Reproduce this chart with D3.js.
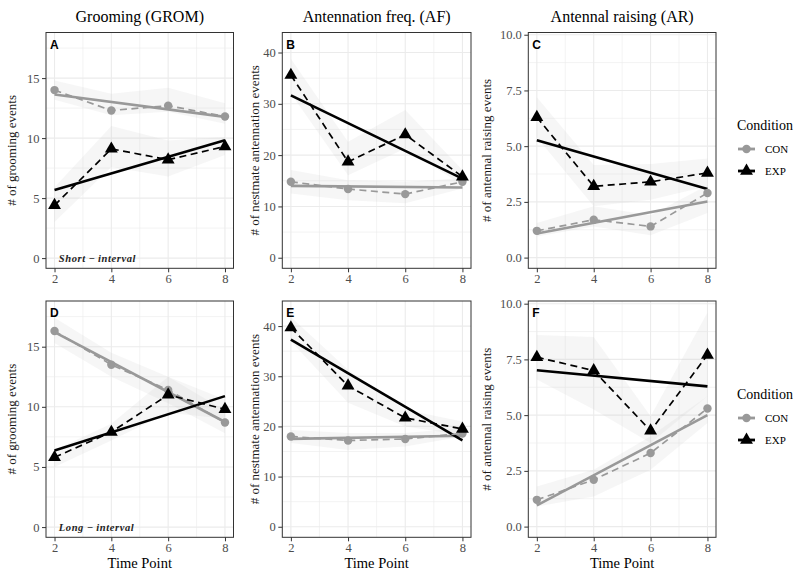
<!DOCTYPE html>
<html>
<head>
<meta charset="utf-8">
<script src="https://cdnjs.cloudflare.com/ajax/libs/d3/7.8.5/d3.min.js"></script>
<style>
  body { margin: 0; background: #fff; }
  text { font-family: "Liberation Serif", "DejaVu Serif", serif; }
</style>
</head>
<body>
<div id="chart"></div>
<script>
// time points on the x axis
var timePoints = [2, 4, 6, 8];
var conditions = ["CON", "EXP"];

// column titles / y titles
var columnTitles = ["Grooming (GROM)", "Antennation freq. (AF)", "Antennal raising (AR)"];
var yTitles = ["# of grooming events", "# of nestmate antennation events", "# of antennal raising events"];

// A - grooming, short interval
var aConMean = [14.0, 12.3, 12.7, 11.8];
var aConLo   = [13.2, 11.9, 12.2, 11.2];
var aConHi   = [14.8, 13.7, 14.2, 12.9];
var aExpMean = [4.4, 9.1, 8.2, 9.3];
var aExpLo   = [3.0, 7.6, 6.8, 8.6];
var aExpHi   = [5.9, 11.0, 9.8, 10.1];

// B - antennation, short interval
var bConMean = [14.8, 13.4, 12.4, 14.8];
var bConLo   = [12.5, 11.2, 10.6, 13.5];
var bConHi   = [17.1, 15.1, 14.8, 15.5];
var bExpMean = [35.6, 18.7, 24.0, 15.8];
var bExpLo   = [32.0, 16.1, 21.3, 14.2];
var bExpHi   = [38.8, 22.6, 28.8, 17.1];

// C - antennal raising, short interval
var cConMean = [1.2, 1.7, 1.4, 2.9];
var cConLo   = [0.95, 1.4, 1.0, 2.0];
var cConHi   = [1.55, 2.3, 1.9, 3.25];
var cExpMean = [6.3, 3.2, 3.4, 3.8];
var cExpLo   = [5.4, 2.3, 2.6, 3.2];
var cExpHi   = [7.2, 4.15, 4.2, 4.45];

// D - grooming, long interval
var dConMean = [16.3, 13.5, 11.4, 8.7];
var dConLo   = [15.3, 12.5, 10.3, 7.8];
var dConHi   = [17.4, 14.5, 12.5, 9.7];
var dExpMean = [5.8, 7.9, 11.0, 9.8];
var dExpLo   = [5.0, 7.2, 9.5, 9.0];
var dExpHi   = [6.4, 8.6, 12.5, 10.6];

// E - antennation, long interval
var eConMean = [18.0, 17.2, 17.5, 18.6];
var eConLo   = [16.7, 15.3, 16.0, 18.0];
var eConHi   = [19.3, 18.7, 18.7, 19.7];
var eExpMean = [39.7, 28.1, 21.7, 19.5];
var eExpLo   = [37.0, 24.7, 20.0, 18.3];
var eExpHi   = [41.8, 31.3, 23.3, 21.0];

// F - antennal raising, long interval
var fConMean = [1.2, 2.1, 3.3, 5.3];
var fConLo   = [0.9, 1.35, 2.55, 4.65];
var fConHi   = [1.8, 2.55, 4.05, 5.85];
var fExpMean = [7.6, 7.0, 4.3, 7.7];
var fExpLo   = [6.6, 5.25, 3.75, 5.85];
var fExpHi   = [8.6, 8.5, 4.95, 9.6];

var groomTicks = [0, 5, 10, 15];
var antTicks = [0, 10, 20, 30, 40];
var raiseTicks = [0, 2.5, 5, 7.5, 10];

var svgWidth = 794, svgHeight = 573;

var svg = d3.select("#chart").append("svg")
  .attr("width", svgWidth)
  .attr("height", svgHeight);

svg.append("rect").attr("width", svgWidth).attr("height", svgHeight).attr("fill", "#fff");

// panel frames
var cols = [{x0: 46, x1: 233.5}, {x0: 282.3, x1: 471}, {x0: 528.3, x1: 716}];
var rows = [{y0: 32.5, y1: 268.3}, {y0: 301, y1: 537.3}];
var yTitleX = [12, 255, 487];

var colour = {CON: "#999999", EXP: "#000000"};

function series(mean, lo, hi) {
  return timePoints.map(function(t, i) { return {t: t, mean: mean[i], lo: lo[i], hi: hi[i]}; });
}

var panels = [
  {letter: "A", col: 0, row: 0, yDomain: [-0.85, 18.8], ticks: groomTicks, fmt: d3.format("d"), note: "Short\u2009\u2212\u2009interval",
   CON: series(aConMean, aConLo, aConHi), EXP: series(aExpMean, aExpLo, aExpHi)},
  {letter: "B", col: 1, row: 0, yDomain: [-2.06, 43.9], ticks: antTicks, fmt: d3.format("d"),
   CON: series(bConMean, bConLo, bConHi), EXP: series(bExpMean, bExpLo, bExpHi)},
  {letter: "C", col: 2, row: 0, yDomain: [-0.48, 10.1], ticks: raiseTicks, fmt: d3.format(".1f"),
   CON: series(cConMean, cConLo, cConHi), EXP: series(cExpMean, cExpLo, cExpHi)},
  {letter: "D", col: 0, row: 1, yDomain: [-0.85, 18.8], ticks: groomTicks, fmt: d3.format("d"), note: "Long\u2009\u2212\u2009interval",
   CON: series(dConMean, dConLo, dConHi), EXP: series(dExpMean, dExpLo, dExpHi)},
  {letter: "E", col: 1, row: 1, yDomain: [-2.1, 45.0], ticks: antTicks, fmt: d3.format("d"),
   CON: series(eConMean, eConLo, eConHi), EXP: series(eExpMean, eExpLo, eExpHi)},
  {letter: "F", col: 2, row: 1, yDomain: [-0.48, 10.12], ticks: raiseTicks, fmt: d3.format(".1f"),
   CON: series(fConMean, fConLo, fConHi), EXP: series(fExpMean, fExpLo, fExpHi)}
];

// least squares fit of the means (geom_smooth lm)
function fitLine(data) {
  var mx = d3.mean(data, function(d) { return d.t; });
  var my = d3.mean(data, function(d) { return d.mean; });
  var sxy = d3.sum(data, function(d) { return (d.t - mx) * (d.mean - my); });
  var sxx = d3.sum(data, function(d) { return (d.t - mx) * (d.t - mx); });
  var b = sxy / sxx, a = my - b * mx;
  var ext = d3.extent(data, function(d) { return d.t; });
  return ext.map(function(t) { return {t: t, v: a + b * t}; });
}

var triangle = d3.symbol().type(d3.symbolTriangle).size(72);
var circle = d3.symbol().type(d3.symbolCircle).size(56);

panels.forEach(function(p) {
  var c = cols[p.col], r = rows[p.row];
  var x = d3.scaleLinear().domain([1.7, 8.3]).range([c.x0, c.x1]);
  var y = d3.scaleLinear().domain(p.yDomain).range([r.y1, r.y0]);
  var g = svg.append("g");

  // minor grid
  var xMinor = [3, 5, 7];
  var step = p.ticks[1] - p.ticks[0];
  var yMinor = p.ticks.map(function(t) { return t + step / 2; })
    .filter(function(v) { return v < p.yDomain[1]; });
  g.selectAll(".xminor").data(xMinor).enter().append("line")
    .attr("x1", d => x(d)).attr("x2", d => x(d))
    .attr("y1", r.y0).attr("y2", r.y1)
    .attr("stroke", "#ebebeb").attr("stroke-width", 0.6);
  g.selectAll(".yminor").data(yMinor).enter().append("line")
    .attr("y1", d => y(d)).attr("y2", d => y(d))
    .attr("x1", c.x0).attr("x2", c.x1)
    .attr("stroke", "#ebebeb").attr("stroke-width", 0.6);
  // major grid
  g.selectAll(".xmajor").data(timePoints).enter().append("line")
    .attr("x1", d => x(d)).attr("x2", d => x(d))
    .attr("y1", r.y0).attr("y2", r.y1)
    .attr("stroke", "#ebebeb").attr("stroke-width", 1.1);
  g.selectAll(".ymajor").data(p.ticks).enter().append("line")
    .attr("y1", d => y(d)).attr("y2", d => y(d))
    .attr("x1", c.x0).attr("x2", c.x1)
    .attr("stroke", "#ebebeb").attr("stroke-width", 1.1);

  // ribbons
  var area = d3.area().x(d => x(d.t)).y0(d => y(d.lo)).y1(d => y(d.hi));
  conditions.forEach(function(k) {
    g.append("path").datum(p[k]).attr("d", area)
      .attr("fill", "#c4c4c4").attr("fill-opacity", 0.16);
  });

  // regression lines
  var fl = d3.line().x(d => x(d.t)).y(d => y(d.v));
  conditions.forEach(function(k) {
    g.append("path").datum(fitLine(p[k])).attr("d", fl)
      .attr("fill", "none").attr("stroke", colour[k]).attr("stroke-width", 2.6);
  });

  // dashed mean lines
  var ml = d3.line().x(d => x(d.t)).y(d => y(d.mean));
  conditions.forEach(function(k) {
    g.append("path").datum(p[k]).attr("d", ml)
      .attr("fill", "none").attr("stroke", colour[k]).attr("stroke-width", 1.7)
      .attr("stroke-dasharray", "7,4.5");
  });

  // points
  g.selectAll(".con").data(p.CON).enter().append("path")
    .attr("d", circle).attr("transform", d => `translate(${x(d.t)},${y(d.mean)})`)
    .attr("fill", colour.CON);
  g.selectAll(".exp").data(p.EXP).enter().append("path")
    .attr("d", triangle).attr("transform", d => `translate(${x(d.t)},${y(d.mean)})`)
    .attr("fill", colour.EXP);

  // border
  g.append("rect").attr("x", c.x0).attr("y", r.y0)
    .attr("width", c.x1 - c.x0).attr("height", r.y1 - r.y0)
    .attr("fill", "none").attr("stroke", "#333").attr("stroke-width", 1);

  // axes
  var yAxis = d3.axisLeft(y).tickValues(p.ticks).tickFormat(p.fmt).tickSize(4).tickPadding(2.5);
  var ya = g.append("g").attr("transform", `translate(${c.x0},0)`).call(yAxis);
  var xAxis = d3.axisBottom(x).tickValues(timePoints).tickFormat(d3.format("d")).tickSize(4).tickPadding(2);
  var xa = g.append("g").attr("transform", `translate(0,${r.y1})`).call(xAxis);
  [ya, xa].forEach(function(a) {
    a.select(".domain").remove();
    a.selectAll(".tick line").attr("stroke", "#333").attr("stroke-width", 1);
    a.selectAll(".tick text").attr("fill", "#4d4d4d")
      .style("font-family", "'Liberation Serif', serif").style("font-size", "12.5px");
  });

  // panel letter
  g.append("text").attr("x", c.x0 + 4).attr("y", r.y0 + 16)
    .style("font-family", "'Liberation Sans', Arial, sans-serif")
    .style("font-weight", "bold").style("font-size", "12px")
    .attr("fill", "#000").text(p.letter);

  if (p.note) {
    g.append("text").attr("x", x(2.15)).attr("y", y(0) + 4)
      .style("font-style", "italic").style("font-weight", "bold")
      .style("font-size", "10.5px").style("letter-spacing", "0.6px")
      .attr("fill", "#222").text(p.note);
  }

  // y title
  g.append("text")
    .attr("transform", `translate(${yTitleX[p.col] + 4},${(r.y0 + r.y1) / 2}) rotate(-90)`)
    .attr("text-anchor", "middle").style("font-size", "13px").attr("fill", "#1a1a1a")
    .text(yTitles[p.col]);

  if (p.row === 1) {
    g.append("text").attr("x", (c.x0 + c.x1) / 2).attr("y", 568)
      .attr("text-anchor", "middle").style("font-size", "14.5px").attr("fill", "#000")
      .text("Time Point");
  } else {
    g.append("text").attr("x", (c.x0 + c.x1) / 2).attr("y", 22)
      .attr("text-anchor", "middle").style("font-size", "16px").attr("fill", "#000")
      .text(columnTitles[p.col]);
  }
});

// legends, one per row
rows.forEach(function(r, i) {
  var top = 125 + i * 269;
  var lg = svg.append("g");
  lg.append("text").attr("x", 737).attr("y", top + 5)
    .style("font-size", "14px").attr("fill", "#000").text("Condition");
  conditions.forEach(function(k, j) {
    var cy = top + 24 + j * 22;
    lg.append("line").attr("x1", 738).attr("x2", 755).attr("y1", cy).attr("y2", cy)
      .attr("stroke", colour[k]).attr("stroke-width", 2.8);
    lg.append("path").attr("d", k === "CON" ? circle : triangle)
      .attr("transform", `translate(746.5,${cy})`).attr("fill", colour[k]);
    lg.append("text").attr("x", 765).attr("y", cy + 4)
      .style("font-size", "11px").attr("fill", "#000").text(k);
  });
});
</script>
</body>
</html>
